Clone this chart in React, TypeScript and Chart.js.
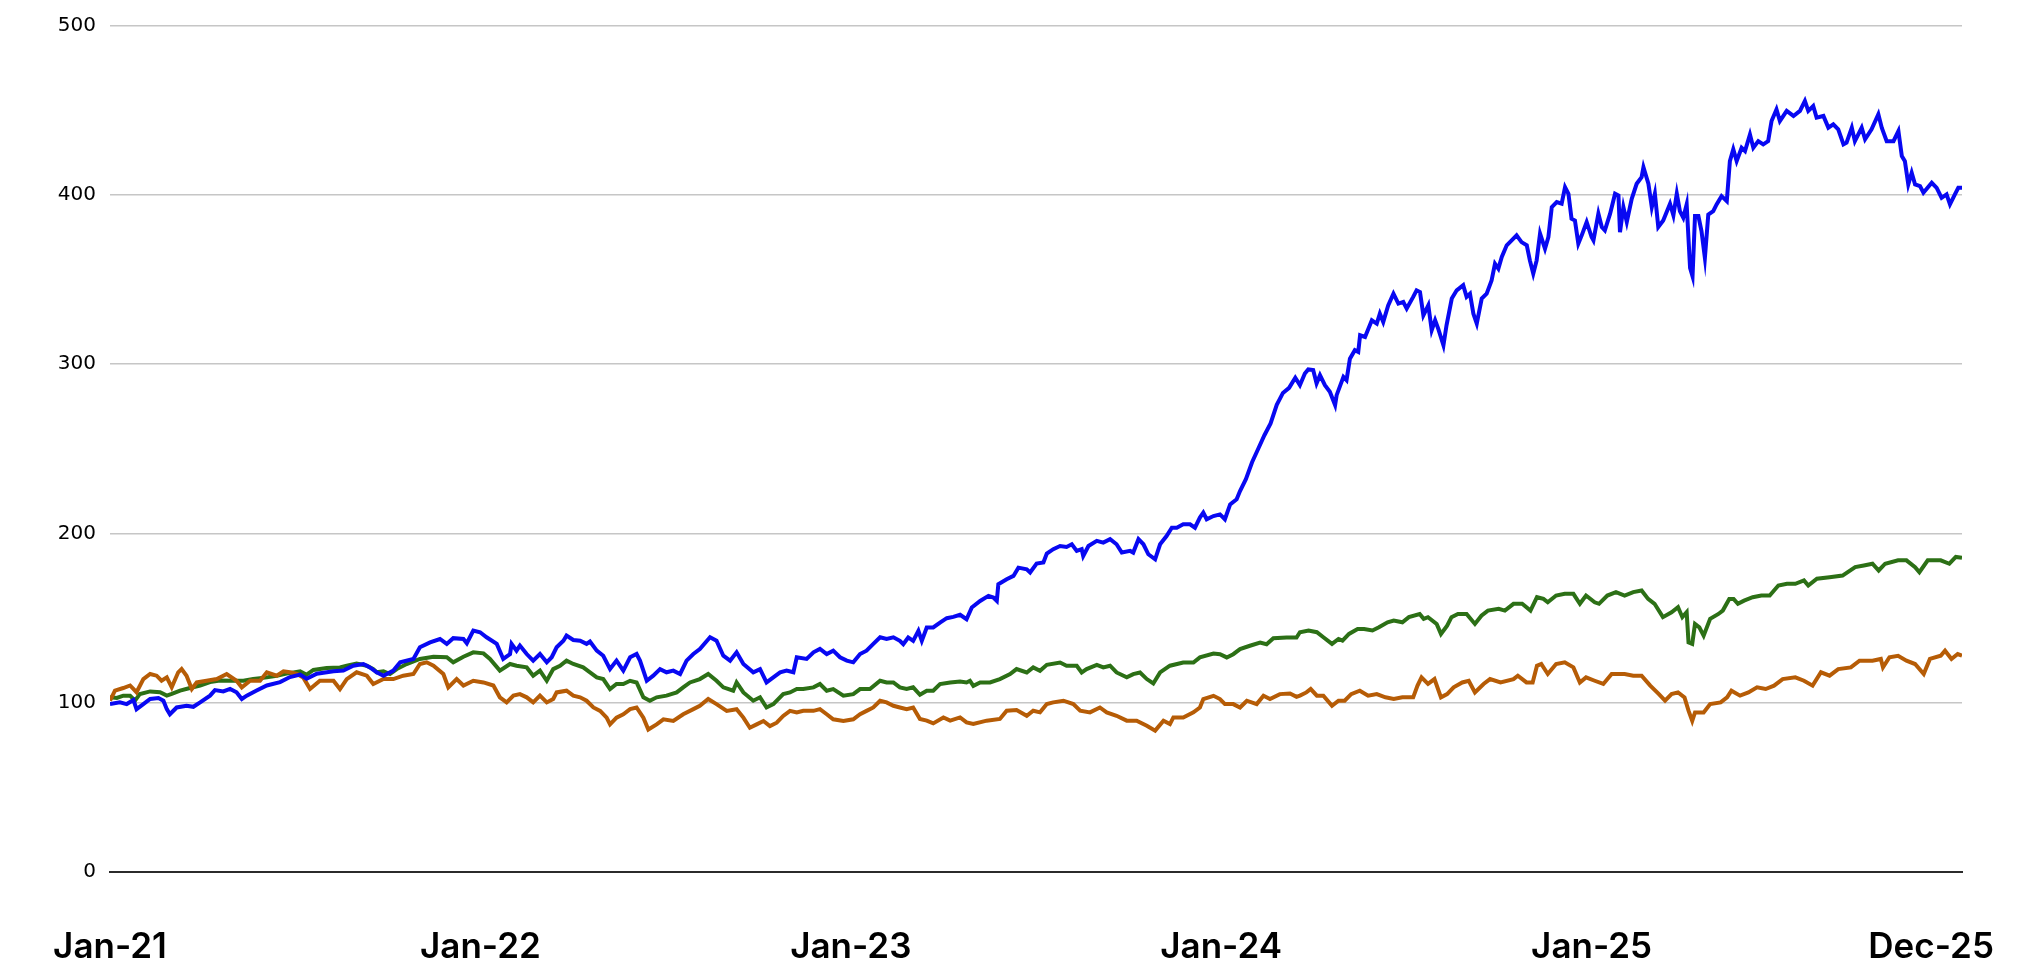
import React, { useEffect, useRef } from "react";
import { Chart, registerables } from "chart.js";

Chart.register(...registerables);

// x = months since start of Jan 2021, y = indexed value
const tickMonths = [0, 12, 24, 36, 48, 59];
const tickLabels = ["Jan-21", "Jan-22", "Jan-23", "Jan-24", "Jan-25", "Dec-25"];
const yTicks = [0, 100, 200, 300, 400, 500];

const blueSeries: [number, number][] = [
  [0.0, 99], [0.32, 100], [0.54, 99], [0.76, 101.4], [0.86, 96], [1.08, 99], [1.3, 102], [1.57, 102.6], [1.73, 101], [1.84, 96], [1.94, 93], [2.16, 97], [2.48, 98], [2.7, 97.4], [2.92, 100], [3.24, 104], [3.4, 107.3], [3.67, 106.5], [3.89, 108], [4.1, 106], [4.27, 102], [4.43, 104], [4.75, 107], [5.08, 110], [5.51, 112], [5.83, 115], [6.16, 116.4], [6.37, 114], [6.7, 117], [7.24, 118.4], [7.56, 118.8], [7.88, 121.7], [8.21, 122.7], [8.42, 120.7], [8.64, 117.8], [8.86, 115.8], [9.18, 118.8], [9.4, 123.7], [9.83, 125.7], [10.04, 132.6], [10.37, 135.5], [10.69, 137.5], [10.91, 134.6], [11.12, 138], [11.45, 137.5], [11.56, 135], [11.77, 142.5], [11.99, 141.5], [12.2, 138.5], [12.53, 134.6], [12.74, 125.7], [12.96, 128.6], [13.01, 134.6], [13.17, 130.6], [13.28, 133.6],
  [13.5, 128.6], [13.71, 124.7], [13.93, 128.6], [14.15, 123.7], [14.31, 126.7], [14.47, 132.6], [14.69, 136.5], [14.79, 139.5], [15.01, 136.9], [15.23, 136.5], [15.44, 134.6], [15.55, 136], [15.77, 130.6], [15.98, 127.6], [16.2, 119.7], [16.41, 124.7], [16.63, 118.8], [16.85, 126.7], [17.06, 128.6], [17.17, 124.7], [17.39, 112.8], [17.6, 115.8], [17.82, 119.7], [18.03, 117.8], [18.25, 118.8], [18.47, 116.8], [18.68, 124.7], [18.9, 128.6], [19.11, 131.6], [19.44, 138.5], [19.65, 136.5], [19.87, 127.6], [20.09, 124.7], [20.3, 129.6], [20.52, 122.7], [20.84, 117.8], [21.06, 119.7], [21.27, 111.8], [21.49, 114.8], [21.71, 117.8], [21.92, 118.8], [22.14, 117.8], [22.25, 126.7], [22.57, 125.7], [22.79, 129.6], [23.0, 131.6], [23.22, 128.6], [23.43, 130.6], [23.65, 126.7], [23.87, 124.7], [24.08, 123.7], [24.3, 128.6], [24.51, 130.6], [24.73, 134.6], [24.95, 138.5], [25.16, 137.5], [25.38, 138.5], [25.59, 136.4], [25.7, 134.4], [25.86, 138.4], [26.02, 136.4], [26.19, 142.3],
  [26.3, 136.4], [26.46, 144.3], [26.67, 144.3], [26.89, 147.2], [27.11, 149.8], [27.32, 150.6], [27.54, 151.8], [27.75, 149.2], [27.92, 156.1], [28.19, 160], [28.46, 163], [28.62, 162], [28.73, 160], [28.78, 169.9], [29.05, 172.8], [29.27, 174.8], [29.43, 179.7], [29.7, 178.7], [29.81, 176.8], [30.02, 182.1], [30.24, 182.7], [30.35, 188], [30.56, 190.6], [30.78, 192.5], [30.99, 191.9], [31.16, 193.5], [31.32, 189.6], [31.48, 190.6], [31.53, 186.6], [31.7, 192.5], [31.97, 195.5], [32.18, 194.5], [32.4, 196.5], [32.61, 193.5], [32.78, 188.6], [33.05, 189.6], [33.15, 188.6], [33.32, 196.5], [33.48, 193.5], [33.64, 187.6], [33.86, 184.6], [34.02, 193.5], [34.23, 198.4], [34.4, 203.3], [34.56, 203.3], [34.77, 205.3], [34.99, 205.3], [35.15, 203.3], [35.31, 209.3], [35.42, 212.2], [35.53, 208.3], [35.75, 210.2], [35.96, 211.2], [36.12, 208.3], [36.29, 217.1], [36.5, 220.1], [36.61, 225],
  [36.8, 232], [37.0, 242], [37.2, 250], [37.4, 258], [37.6, 265], [37.8, 276], [38.0, 283], [38.2, 286], [38.4, 292],
  [38.55, 287.6], [38.71, 294.5], [38.82, 296.9], [38.98, 296.5], [39.09, 288.6], [39.2, 293.5], [39.36, 287.6], [39.52, 283.7], [39.69, 275.8], [39.74, 281.7], [39.96, 292.5], [40.06, 290.6], [40.17, 303.3], [40.33, 308.3], [40.44, 307.3], [40.5, 317.1], [40.66, 316.1], [40.88, 326], [41.04, 324], [41.14, 329.9], [41.25, 325], [41.41, 334.8], [41.58, 341.7], [41.74, 335.8], [41.9, 336.8], [42.01, 332.9], [42.22, 339.8], [42.33, 343.7], [42.44, 342.7], [42.55, 328.9], [42.71, 334.8], [42.82, 320.1], [42.93, 326], [43.03, 321], [43.2, 311.2], [43.3, 323], [43.47, 338.8], [43.63, 343.7], [43.84, 346.7], [43.95, 339.8], [44.06, 341.7], [44.17, 329.9], [44.28, 324], [44.44, 338.8], [44.6, 341.7], [44.76, 349.6], [44.87, 359.4], [44.98, 356.5], [45.09, 363.4], [45.25, 370.3], [45.41, 373.2], [45.57, 376.2], [45.73, 372.2], [45.9, 370.3], [46.0, 361.4], [46.11, 353.5], [46.22, 361.4], [46.33, 377.2], [46.49, 368.3], [46.6, 375.2], [46.71, 392.9], [46.87, 395.9], [47.03, 394.9], [47.14, 404.7], [47.25, 400.8], [47.35, 386], [47.46, 385], [47.57, 371.3], [47.68, 376.2], [47.84, 384.1], [48.0, 375.2], [48.06, 373.2], [48.22, 389], [48.33, 381.1], [48.43, 379.1], [48.6, 389], [48.76, 400.8], [48.87, 399.8], [48.92, 378.1], [49.03, 392.9], [49.14, 384.1], [49.3, 397.8], [49.46, 406.7], [49.62, 410.6], [49.68, 416.5], [49.84, 406.7], [49.95, 392.9], [50.05, 400.8], [50.16, 381.1], [50.32, 385], [50.54, 394.9], [50.65, 388], [50.76, 400.8],
  [50.86, 390.5], [50.97, 386.6], [51.08, 394.5], [51.19, 357], [51.27, 352], [51.35, 387.6], [51.46, 387.6], [51.56, 378.7], [51.67, 362.9], [51.78, 388.5], [51.94, 390.5], [52.05, 394.5], [52.21, 399.4], [52.38, 396.4], [52.48, 420.1], [52.59, 427.1], [52.7, 420.1], [52.86, 428], [52.97, 426.1], [53.13, 435.9], [53.24, 428], [53.4, 431.9], [53.56, 430], [53.72, 431.9], [53.83, 443.8], [53.99, 450.7], [54.1, 443.8], [54.32, 449.8], [54.54, 446.8], [54.75, 449.8], [54.91, 455.7], [55.02, 449.8], [55.18, 452.7], [55.29, 445.8], [55.51, 446.8], [55.67, 439.9], [55.83, 441.9], [55.99, 438.9], [56.16, 430], [56.26, 431], [56.43, 439.9], [56.53, 431.9], [56.75, 439.9], [56.86, 433], [57.07, 438.9], [57.29, 447.8], [57.4, 439.9], [57.56, 431.9], [57.78, 431.9], [57.94, 437.9], [58.05, 423.1], [58.15, 420.1], [58.26, 406.3], [58.37, 413.2], [58.48, 406.3], [58.64, 405.3], [58.75, 401.4], [59.02, 407.3], [59.18, 404.3], [59.34, 398.4], [59.5, 400.4], [59.61, 394.5], [59.77, 400.4], [59.88, 404.3], [60.0, 404.3],
];

const greenSeries: [number, number][] = [
  [0.0, 103], [0.22, 102.6], [0.43, 104], [0.65, 104], [0.81, 101], [0.97, 105], [1.3, 106.5], [1.62, 106], [1.84, 104], [2.0, 105], [2.27, 107], [2.59, 108.5], [2.92, 110], [3.24, 112], [3.56, 113], [4.0, 112.8], [4.32, 112.8], [4.64, 113.8], [5.08, 114.8], [5.4, 115.8], [5.72, 117], [6.16, 118.4], [6.37, 116.4], [6.59, 119.2], [7.02, 120.3], [7.45, 120.7], [7.67, 121.7], [7.99, 123], [8.32, 121.7], [8.53, 119.7], [8.64, 117.8], [8.86, 118.4], [9.07, 116.8], [9.29, 119.7], [9.61, 122.7], [10.04, 125.7], [10.48, 127], [10.91, 126.7], [11.12, 123.7], [11.45, 127], [11.77, 129.6], [12.1, 129], [12.31, 125.7], [12.63, 118.8], [12.96, 122.7], [13.17, 121.7],
  [13.5, 120.7], [13.71, 115.8], [13.93, 118.8], [14.15, 112.8], [14.36, 119.7], [14.58, 121.7], [14.79, 124.7], [15.01, 122.7], [15.33, 120.7], [15.55, 117.8], [15.77, 114.8], [15.98, 113.8], [16.2, 107.9], [16.41, 110.9], [16.63, 110.9], [16.85, 112.8], [17.06, 111.8], [17.28, 103], [17.49, 101], [17.71, 103], [18.03, 104], [18.36, 105.9], [18.57, 108.9], [18.79, 111.8], [19.11, 113.8], [19.38, 116.8], [19.65, 112.8], [19.87, 108.9], [20.19, 106.9], [20.3, 111.8], [20.52, 105.9], [20.84, 101], [21.06, 103], [21.27, 97], [21.49, 99], [21.81, 104.9], [22.03, 105.9], [22.25, 107.9], [22.46, 107.9], [22.79, 108.9], [23.0, 110.9], [23.22, 106.9], [23.43, 107.9], [23.76, 104], [24.08, 104.9], [24.3, 107.9], [24.62, 107.9], [24.95, 112.8], [25.16, 111.8], [25.38, 111.8], [25.59, 108.9], [25.81, 107.9], [26.02, 108.9],
  [26.24, 104.5], [26.46, 106.9], [26.67, 106.9], [26.89, 110.8], [27.22, 111.8], [27.54, 112.4], [27.75, 111.8], [27.86, 112.8], [27.97, 109.8], [28.19, 111.8], [28.51, 111.8], [28.83, 113.8], [29.16, 116.7], [29.37, 119.7], [29.7, 117.7], [29.91, 120.7], [30.13, 118.7], [30.35, 122.2], [30.78, 123.6], [30.99, 121.7], [31.32, 121.7], [31.48, 117.7], [31.64, 119.7], [31.97, 122.2], [32.18, 120.7], [32.4, 121.7], [32.61, 117.7], [32.94, 114.8], [33.15, 116.7], [33.37, 117.7], [33.59, 113.8], [33.8, 111.2], [34.02, 117.7], [34.34, 121.7], [34.77, 123.6], [35.1, 123.6], [35.31, 126.6], [35.75, 128.9], [35.96, 128.5], [36.18, 126.6], [36.39, 128.5], [36.61, 131.5], [36.93, 133.5], [37.26, 135.4], [37.47, 134.4], [37.69, 138], [38.12, 138.4], [38.44, 138.4],
  [38.55, 141.5], [38.83, 142.5], [39.1, 141.5], [39.31, 138.5], [39.59, 134.6], [39.8, 137.5], [39.93, 136.5], [40.14, 140.5], [40.42, 143.4], [40.63, 143.4], [40.9, 142.5], [41.11, 144.4], [41.39, 147.4], [41.59, 148.4], [41.87, 147.4], [42.08, 150.4], [42.43, 152.3], [42.56, 149.4], [42.7, 150.4], [42.98, 146.4], [43.12, 140.5], [43.32, 145.4], [43.46, 150.4], [43.67, 152.3], [43.95, 152.3], [44.22, 146.4], [44.43, 151.3], [44.64, 154.3], [44.99, 155.3], [45.19, 154.3], [45.47, 158.3], [45.75, 158.3], [46.02, 154.3], [46.23, 162.2], [46.44, 161.2], [46.58, 159.2], [46.85, 163.2], [47.13, 164.2], [47.41, 164.2], [47.62, 158.3], [47.82, 163.2], [48.1, 159.2], [48.24, 158.3], [48.51, 163.2], [48.79, 165.2], [49.07, 163.2], [49.35, 165.2], [49.62, 166.2], [49.83, 161.2], [50.04, 158.3], [50.31, 150.4], [50.59, 153.3], [50.8, 156.3], [50.94, 150.4], [51.08, 153.3], [51.14, 135.5], [51.26, 134.6], [51.35, 146.4], [51.49, 144.4], [51.63, 139.5], [51.84, 149.4], [52.11, 152.3], [52.25, 154.3], [52.46, 161.2], [52.6, 161.2], [52.74, 158.3], [52.94, 160.2], [53.22, 162.2], [53.5, 163.2], [53.77, 163.2], [54.05, 169.1], [54.33, 170.1], [54.6, 170.1], [54.88, 172.1], [55.02, 169.1], [55.3, 173.1], [55.71, 174], [56.13, 175], [56.54, 180], [56.82, 181], [57.1, 182], [57.3, 178], [57.51, 182], [57.93, 184], [58.2, 184], [58.48, 180], [58.62, 177], [58.89, 184], [59.31, 184], [59.59, 182], [59.8, 186], [60.0, 185.5],
];

const orangeSeries: [number, number][] = [
  [0.0, 101], [0.16, 107], [0.43, 108.5], [0.65, 110], [0.86, 106], [1.08, 113.8], [1.3, 116.8], [1.51, 115.8], [1.67, 112.8], [1.84, 114.8], [2.0, 108.9], [2.21, 117.8], [2.32, 119.7], [2.48, 115.8], [2.65, 107.9], [2.81, 111.8], [3.13, 112.8], [3.46, 113.8], [3.78, 116.8], [4.1, 112.8], [4.27, 108.9], [4.54, 112.8], [4.86, 112.8], [5.08, 117.8], [5.4, 115.8], [5.62, 118.4], [5.83, 117.8], [6.05, 116.8], [6.26, 114.8], [6.48, 107.9], [6.8, 112.8], [7.24, 112.8], [7.45, 107.9], [7.67, 113.8], [7.99, 117.8], [8.32, 115.8], [8.53, 110.9], [8.86, 113.8], [9.18, 113.8], [9.5, 115.8], [9.83, 116.8], [10.04, 122.7], [10.26, 123.7], [10.48, 121.7], [10.8, 116.8], [10.96, 108.9], [11.23, 113.8], [11.45, 110], [11.77, 112.8], [12.1, 111.8], [12.42, 110], [12.63, 103], [12.85, 100], [13.07, 104], [13.28, 104.9],
  [13.5, 103], [13.71, 100], [13.93, 104], [14.15, 100], [14.36, 102], [14.47, 105.9], [14.79, 106.9], [15.01, 104], [15.23, 103], [15.44, 101], [15.66, 97], [15.88, 95], [16.09, 91], [16.2, 87], [16.41, 91], [16.63, 93], [16.85, 96], [17.06, 97], [17.28, 91], [17.44, 84], [17.71, 87], [17.93, 90], [18.25, 89], [18.57, 93], [18.9, 96], [19.11, 98], [19.38, 102], [19.65, 99], [19.98, 95], [20.3, 96], [20.52, 91], [20.73, 85], [20.95, 87], [21.17, 89], [21.38, 86], [21.6, 88], [21.81, 92], [22.03, 95], [22.25, 94], [22.46, 95], [22.79, 95], [23.0, 96], [23.22, 93], [23.43, 90], [23.76, 89], [24.08, 90], [24.3, 93], [24.51, 95], [24.73, 97], [24.95, 101], [25.16, 100], [25.38, 98], [25.59, 97], [25.81, 96], [26.02, 97],
  [26.24, 90.2], [26.46, 89.2], [26.67, 87.6], [27.0, 91.1], [27.22, 89.2], [27.54, 91.1], [27.75, 88.2], [27.97, 87.2], [28.4, 89.2], [28.83, 90.2], [29.05, 95.1], [29.37, 95.5], [29.7, 92.1], [29.91, 95.1], [30.13, 94.1], [30.35, 99], [30.56, 100], [30.89, 101], [31.21, 99], [31.43, 95.1], [31.75, 94.1], [32.07, 97], [32.29, 94.1], [32.61, 92.1], [32.94, 89.2], [33.26, 89.2], [33.59, 86.2], [33.86, 83.3], [34.13, 89.2], [34.34, 87.2], [34.45, 91.1], [34.77, 91.1], [35.1, 94.1], [35.31, 97], [35.42, 102], [35.75, 103.9], [35.96, 102], [36.12, 99], [36.39, 99], [36.61, 97], [36.83, 101], [37.15, 99], [37.37, 103.9], [37.58, 102], [37.9, 104.9], [38.23, 105.3], [38.44, 103.3],
  [38.55, 104], [38.76, 105.9], [38.9, 107.9], [39.1, 104], [39.31, 104], [39.59, 98], [39.8, 101], [40.0, 101], [40.21, 104.9], [40.49, 106.9], [40.76, 104], [41.04, 104.9], [41.32, 103], [41.59, 102], [41.87, 103], [42.22, 103], [42.36, 109.9], [42.49, 114.8], [42.7, 110.9], [42.91, 113.8], [43.12, 103], [43.32, 104.9], [43.53, 108.9], [43.81, 111.8], [44.02, 112.8], [44.22, 105.9], [44.5, 110.9], [44.71, 113.8], [45.05, 111.8], [45.47, 113.8], [45.61, 115.8], [45.89, 111.8], [46.09, 111.8], [46.23, 121.7], [46.37, 122.7], [46.58, 116.8], [46.85, 122.7], [47.13, 123.7], [47.41, 120.7], [47.62, 111.8], [47.82, 114.8], [48.1, 112.8], [48.38, 110.9], [48.65, 116.8], [49.07, 116.8], [49.35, 115.8], [49.62, 115.8], [49.9, 109.9], [50.18, 104.9], [50.38, 101], [50.59, 104.9], [50.8, 105.9], [51.01, 103], [51.14, 95.1], [51.26, 89.1], [51.35, 94.1], [51.63, 94.1], [51.84, 99], [52.18, 100], [52.39, 103], [52.53, 106.9], [52.81, 104], [53.08, 105.9], [53.36, 108.9], [53.64, 107.9], [53.91, 109.9], [54.19, 113.8], [54.6, 114.8], [54.88, 112.8], [55.16, 109.9], [55.43, 117.8], [55.71, 115.8], [55.99, 119.7], [56.4, 120.7], [56.68, 124.7], [57.1, 124.7], [57.37, 125.7], [57.44, 120.7], [57.65, 126.7], [57.93, 127.6], [58.2, 124.7], [58.48, 122.7], [58.76, 116.8], [58.96, 125.7], [59.31, 127.6], [59.45, 130.6], [59.66, 125.7], [59.86, 128.6], [60.0, 127.6],
];

const toPoints = (s: [number, number][]) => s.map(([x, y]) => ({ x, y }));

export default function App() {
  const ref = useRef<HTMLCanvasElement | null>(null);

  useEffect(() => {
    if (!ref.current) return;
    const chart = new Chart(ref.current, {
      type: "line",
      data: {
        datasets: [
          { label: "Blue", data: toPoints(blueSeries), borderColor: "#0808f2", borderWidth: 4, pointRadius: 0, tension: 0 },
          { label: "Orange", data: toPoints(orangeSeries), borderColor: "#b65c06", borderWidth: 4, pointRadius: 0, tension: 0 },
          { label: "Green", data: toPoints(greenSeries), borderColor: "#2c7016", borderWidth: 4, pointRadius: 0, tension: 0 },
        ],
      },
      options: {
        responsive: false,
        animation: false,
        layout: { padding: { left: 0, right: 58, top: 26, bottom: 0 } },
        plugins: { legend: { display: false }, tooltip: { enabled: false } },
        scales: {
          x: {
            type: "linear",
            min: 0,
            max: 60,
            grid: { display: false, drawTicks: false },
            border: { display: true, color: "#2b2b2b", width: 2 },
            afterBuildTicks: (scale: any) => {
              scale.ticks = tickMonths.map((v) => ({ value: v }));
            },
            afterFit: (scale: any) => {
              scale.height = 88.5;
              scale.paddingLeft = 0;
              scale.paddingRight = 0;
            },
            ticks: {
              autoSkip: false,
              maxRotation: 0,
              padding: 55,
              color: "#000",
              font: { family: "Inter", size: 35, weight: "600" },
              callback: (value: any) => {
                const i = tickMonths.indexOf(Number(value));
                return i >= 0 ? tickLabels[i] : "";
              },
            },
          },
          y: {
            min: 0,
            max: 500,
            afterBuildTicks: (scale: any) => {
              scale.ticks = yTicks.map((v) => ({ value: v }));
            },
            afterFit: (scale: any) => {
              scale.width = 110;
              scale.paddingTop = 0;
              scale.paddingBottom = 0;
            },
            border: { display: false },
            grid: {
              drawTicks: false,
              lineWidth: 1.5,
              color: (ctx: any) => (ctx.tick && ctx.tick.value === 0 ? "rgba(0,0,0,0)" : "#c6c6c6"),
            },
            ticks: {
              padding: 14,
              color: "#000",
              font: { family: "DejaVu Sans", size: 20 },
              callback: (value: any) => String(value),
            },
          },
        },
      },
    });
    return () => chart.destroy();
  }, []);

  return (
    <div style={{ position: "fixed", left: 0, top: 0, width: 2020, height: 960, background: "#fff" }}>
      <canvas ref={ref} width={2020} height={960} style={{ display: "block" }} />
    </div>
  );
}
